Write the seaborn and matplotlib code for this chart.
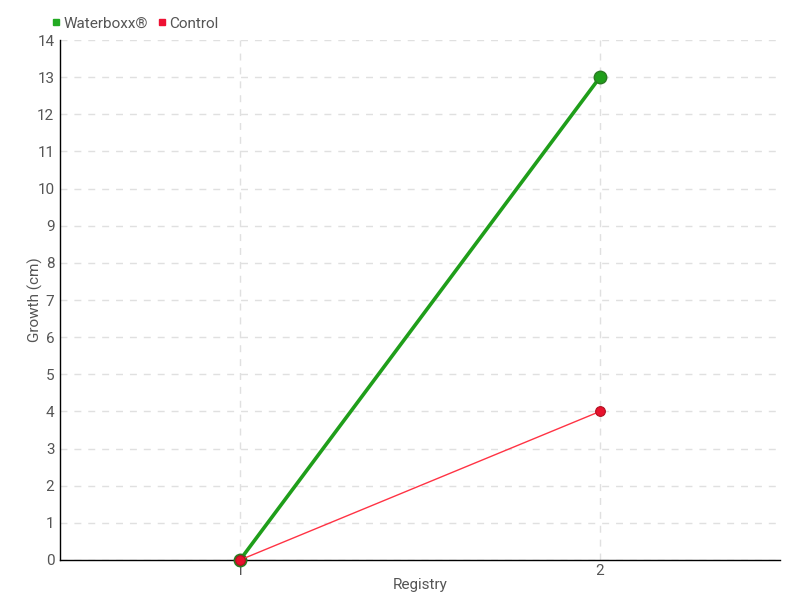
import matplotlib
matplotlib.use("Agg")
import matplotlib.pyplot as plt
import pandas as pd
import seaborn as sns
from matplotlib.lines import Line2D

registry = [1, 2]
waterboxx = [0, 13]
control = [0, 4]
series_names = ["Waterboxx®", "Control"]

df = pd.DataFrame({
    "Registry": registry * 2,
    "Growth": waterboxx + control,
    "series": [series_names[0]] * 2 + [series_names[1]] * 2,
})

sns.set_style("white")
plt.rcParams['font.family'] = ['Roboto', 'DejaVu Sans']

green = "#1f9e1a"
red = "#ff3344"
text_col = "#555555"

fig = plt.figure(figsize=(8, 6), dpi=100)
ax = fig.add_axes([0.075, 0.0667, 0.9, 0.8666])

sns.lineplot(data=df[df.series == series_names[0]], x="Registry", y="Growth",
             color=green, linewidth=2.6, marker="o", markersize=9,
             markeredgecolor="#2a7a22", markeredgewidth=1, ax=ax, legend=False,
             clip_on=False, zorder=3)
sns.lineplot(data=df[df.series == series_names[1]], x="Registry", y="Growth",
             color=red, linewidth=1, marker="o", markersize=7,
             markerfacecolor="#e8112d", markeredgecolor="#b01020",
             markeredgewidth=0.8, ax=ax, legend=False, clip_on=False, zorder=4)

ax.set_xlim(0.5, 2.5)
ax.set_ylim(0, 14)
ax.set_xticks(registry)
ax.set_yticks(range(0, 15))
ax.grid(True, linestyle=(0, (5, 5)), color="#e0e0e0", linewidth=1)
ax.set_axisbelow(True)
for s in ["top", "right"]:
    ax.spines[s].set_visible(False)
for s in ["left", "bottom"]:
    ax.spines[s].set_color("black")
    ax.spines[s].set_linewidth(1)
ax.tick_params(axis="both", direction="inout", length=6, width=1, color="black",
               labelcolor=text_col, labelsize=11)
ax.tick_params(axis="y", pad=1)
ax.tick_params(axis="x", pad=0)
ax.set_xlabel("Registry", color=text_col, fontsize=11, labelpad=0)
ax.set_ylabel("Growth (cm)", color=text_col, fontsize=11, labelpad=-4)

handles = [
    Line2D([], [], linestyle="none", marker="s", markersize=5, color="#22aa22"),
    Line2D([], [], linestyle="none", marker="s", markersize=5, color="#ee1133"),
]
fig.legend(handles, series_names, loc="upper left", bbox_to_anchor=(0.047, 0.995),
           ncol=2, frameon=False, handlelength=0.6, handletextpad=0.2,
           columnspacing=0.6, labelcolor=text_col, fontsize=11)

fig.savefig("out.png", dpi=100)
